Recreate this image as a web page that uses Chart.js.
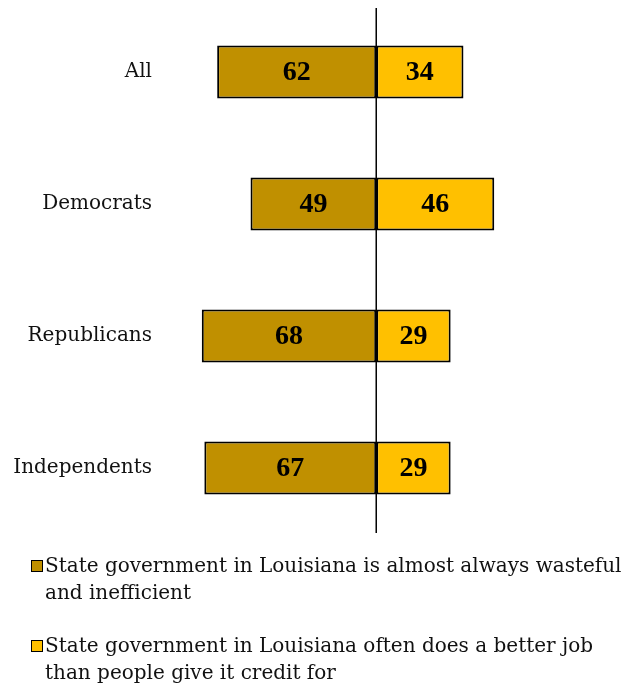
<!DOCTYPE html>
<html>
<head>
<meta charset="utf-8">
<script src="https://cdn.jsdelivr.net/npm/chart.js@4"></script>
<style>
    body { margin: 0; background: #fff; overflow: hidden; }
    #wrap { position: relative; width: 622px; height: 684px; overflow: hidden; }
    #chart-box { position: absolute; left: 0; top: -16px; width: 622px; height: 572px; }
    #legend { position: absolute; left: 0; top: 552px; width: 630px; font-family: "DejaVu Serif", serif; font-size: 20px; color: #111; }
    .item { position: relative; padding-left: 45px; line-height: 27px; margin-bottom: 26px; }
    .swatch { position: absolute; left: 31px; top: 8px; width: 10px; height: 10px; border: 1.5px solid #000; }
</style>
</head>
<body>
<div id="wrap">
    <div id="chart-box"><canvas id="barChart"></canvas></div>
    <div id="legend"></div>
</div>
<script>
const categories = ["All", "Democrats", "Republicans", "Independents"];
const wasteful = [62, 49, 68, 67];
const betterJob = [34, 46, 29, 29];
const seriesNames = [
    "State government in Louisiana is almost always wasteful and inefficient",
    "State government in Louisiana often does a better job than people give it credit for"
];
const seriesColors = ["#C09000", "#FFC000"];

// vertical line at zero
const zeroLine = {
    id: "zeroLine",
    afterDatasetsDraw(chart) {
        const ctx = chart.ctx;
        const x = chart.scales.x.getPixelForValue(0);
        ctx.save();
        ctx.strokeStyle = "#000";
        ctx.lineWidth = 1.5;
        ctx.beginPath();
        ctx.moveTo(x, chart.chartArea.top + 2);
        ctx.lineTo(x, chart.chartArea.bottom - 1);
        ctx.stroke();
        ctx.restore();
    }
};

// value labels in the bars
const barLabels = {
    id: "barLabels",
    afterDatasetsDraw(chart) {
        const ctx = chart.ctx;
        ctx.save();
        ctx.font = "bold 28px 'Liberation Serif', serif";
        ctx.fillStyle = "#000";
        ctx.textAlign = "center";
        ctx.textBaseline = "middle";
        chart.data.datasets.forEach((ds, i) => {
            chart.getDatasetMeta(i).data.forEach((bar, j) => {
                const cx = (bar.x + bar.base) / 2;
                ctx.fillText(Math.abs(ds.data[j]), cx, bar.y + 1);
            });
        });
        ctx.restore();
    }
};

new Chart(document.getElementById("barChart"), {
    type: "bar",
    data: {
        labels: categories,
        datasets: [{
            label: seriesNames[0],
            data: wasteful.map(v => -v),
            backgroundColor: seriesColors[0]
        }, {
            label: seriesNames[1],
            data: betterJob,
            backgroundColor: seriesColors[1]
        }]
    },
    options: {
        indexAxis: "y",
        responsive: true,
        maintainAspectRatio: false,
        animation: false,
        layout: { padding: { top: 6, bottom: 6, right: 11 } },
        datasets: {
            bar: {
                borderColor: "#000",
                borderWidth: 2,
                borderSkipped: false,
                categoryPercentage: 1,
                barPercentage: 0.4
            }
        },
        plugins: {
            legend: { display: false },
            tooltip: { enabled: false }
        },
        scales: {
            x: {
                display: false,
                stacked: true,
                min: -83.5,
                max: 91.5
            },
            y: {
                stacked: true,
                border: { display: false },
                grid: { display: false, drawTicks: false },
                ticks: {
                    padding: 10,
                    color: "#111",
                    font: { family: "'DejaVu Serif', serif", size: 20 }
                },
                afterFit(scale) { scale.width = 162; }
            }
        }
    },
    plugins: [zeroLine, barLabels]
});

// legend built from the series
const legend = document.getElementById("legend");
seriesNames.forEach((name, i) => {
    const item = document.createElement("div");
    item.className = "item";
    item.innerHTML = '<span class="swatch" style="background:' + seriesColors[i] + '"></span>' + name;
    legend.appendChild(item);
});
</script>
</body>
</html>
